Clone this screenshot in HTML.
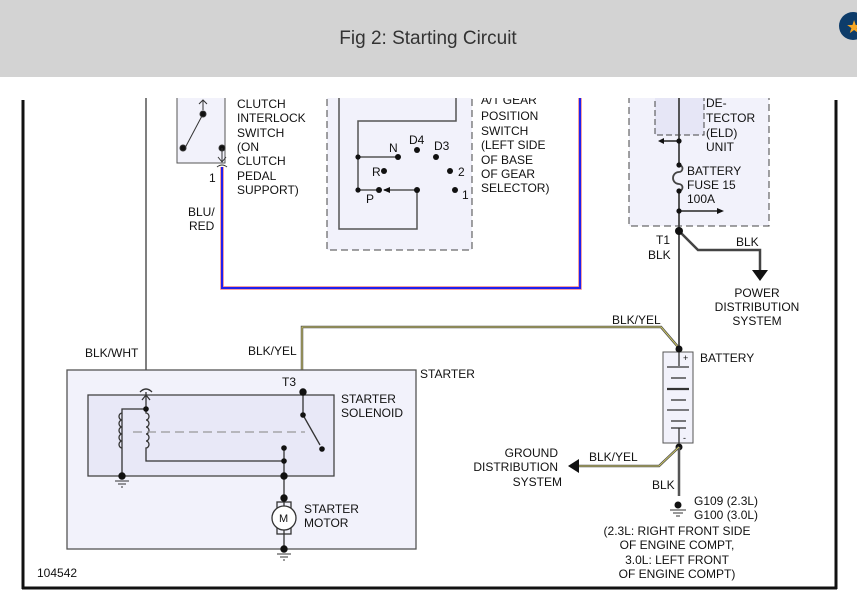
<!DOCTYPE html>
<html><head><meta charset="utf-8"><style>
body{margin:0;width:857px;height:600px;overflow:hidden;background:#fff;font-family:"Liberation Sans",sans-serif}
.hdr{position:absolute;left:0;top:0;width:857px;height:77px;background:#d3d3d3;z-index:2}
.hdr div{position:absolute;left:0;width:857px;top:26px;text-align:center;font-size:19px;color:#333}
svg{position:absolute;left:0;top:0}
text{font-family:"Liberation Sans",sans-serif;font-size:12px;fill:#111}
</style></head><body>
<div class="hdr"><div>Fig 2: Starting Circuit</div></div>
<svg width="857" height="600" viewBox="0 0 857 600" style="z-index:3">
<g fill="none" stroke="#111">
<line x1="23" y1="100" x2="23" y2="589" stroke-width="3"/>
<line x1="22" y1="588" x2="837" y2="588" stroke-width="3"/>
<line x1="836" y1="100" x2="836" y2="589" stroke-width="3"/>
</g>
<!-- clutch switch -->
<rect x="177" y="90" width="48" height="73" fill="#f2f2fb" stroke="#555"/>
<g stroke="#333" fill="#111">
<line x1="203" y1="114" x2="185" y2="148"/>
<circle cx="203" cy="114" r="3"/><circle cx="183" cy="148" r="3"/><circle cx="222" cy="148" r="3"/>
<line x1="222" y1="148" x2="222" y2="162"/>
<path d="M218 157 L222 162 L226 157" fill="none"/>
<path d="M203 110 L203 100 M199 104 L203 100 L207 104" fill="none"/>
<path d="M217 167 Q222 163 227 167" fill="none"/>
</g>
<g>
<text x="237" y="108">CLUTCH</text><text x="237" y="122">INTERLOCK</text><text x="237" y="137">SWITCH</text>
<text x="237" y="151">(ON</text><text x="237" y="165">CLUTCH</text><text x="237" y="180">PEDAL</text><text x="237" y="194">SUPPORT)</text>
<text x="209" y="182">1</text>
<text x="188" y="216">BLU/</text><text x="189" y="230">RED</text>
</g>
<path d="M222 167 V288 H580 V90" fill="none" stroke="#f08080" stroke-width="3.5"/>
<path d="M222 167 V288 H580 V90" fill="none" stroke="#2020ee" stroke-width="2"/>
<!-- gear switch -->
<rect x="327" y="90" width="145" height="160" fill="#f2f2fb" stroke="#444" stroke-dasharray="7,4"/>
<g stroke="#555" fill="none" stroke-width="1.5">
<path d="M456 90 V121 H358 V190 H379"/>
<path d="M358 157 H398"/>
<path d="M417 190 V229 H339 V90"/>
<path d="M417 190 H384"/>
</g>
<path d="M383 190 L390 187 L390 193Z" fill="#111"/>
<g fill="#111">
<circle cx="358" cy="157" r="2.6"/><circle cx="358" cy="190" r="2.6"/>
<circle cx="398" cy="157" r="3"/><circle cx="417" cy="150" r="3"/><circle cx="436" cy="157" r="3"/>
<circle cx="384" cy="171" r="3"/><circle cx="450" cy="171" r="3"/><circle cx="379" cy="190" r="3"/>
<circle cx="417" cy="190" r="3"/><circle cx="455" cy="190" r="3"/>
</g>
<text x="389" y="152">N</text><text x="409" y="144">D4</text><text x="434" y="150">D3</text>
<text x="372" y="176">R</text><text x="458" y="176">2</text><text x="366" y="203">P</text><text x="462" y="199">1</text>
<text x="481" y="104">A/T GEAR</text><text x="481" y="120">POSITION</text><text x="481" y="135">SWITCH</text>
<text x="481" y="149">(LEFT SIDE</text><text x="481" y="164">OF BASE</text><text x="481" y="178">OF GEAR</text><text x="481" y="192">SELECTOR)</text>
<line x1="146" y1="90" x2="146" y2="388" stroke="#555" stroke-width="1.5"/>
<text x="85" y="357">BLK/WHT</text>
<!-- ELD / fuse -->
<rect x="629" y="90" width="140" height="136" fill="#f2f2fb" stroke="#444" stroke-dasharray="7,4"/>
<rect x="655" y="90" width="49" height="45" fill="#e6e6f6" stroke="#444" stroke-dasharray="6,3"/>
<g stroke="#444" stroke-width="1.8" fill="none">
<line x1="679" y1="90" x2="679" y2="165"/>
<path d="M679 165 a3.5 3.5 0 0 1 0 7 a6 6 0 0 0 0 12 a3.5 3.5 0 0 1 0 7"/>
<line x1="679" y1="191" x2="679" y2="352"/>
<line x1="679" y1="141" x2="663" y2="141"/>
<line x1="679" y1="211" x2="718" y2="211"/>
<path d="M679 231 L698 250 H760 V270" stroke-width="2.5"/>
</g>
<path d="M658 141 L664 138 L664 144Z M724 211 L717 208 L717 214Z M752 270 H768 L760 281Z" fill="#111"/>
<g fill="#111"><circle cx="679" cy="141" r="2.6"/><circle cx="679" cy="165" r="2.6"/><circle cx="679" cy="191" r="2.6"/><circle cx="679" cy="211" r="2.6"/><circle cx="679" cy="231" r="4"/></g>
<text x="706" y="107">DE-</text><text x="706" y="122">TECTOR</text><text x="706" y="137">(ELD)</text><text x="706" y="151">UNIT</text>
<text x="687" y="175">BATTERY</text><text x="687" y="189">FUSE 15</text><text x="687" y="203">100A</text>
<text x="656" y="244">T1</text><text x="648" y="259">BLK</text><text x="736" y="246">BLK</text>
<text x="757" y="297" text-anchor="middle">POWER</text><text x="757" y="311" text-anchor="middle">DISTRIBUTION</text><text x="757" y="325" text-anchor="middle">SYSTEM</text>
<!-- BLK/YEL -->
<path d="M302 392 V327 H661 L679 348" fill="none" stroke="#555" stroke-width="2.5"/>
<path d="M302 392 V327 H661 L679 348" fill="none" stroke="#e8e060" stroke-width="0.8"/>
<text x="612" y="324">BLK/YEL</text><text x="248" y="355">BLK/YEL</text>
<!-- battery -->
<rect x="663" y="352" width="30" height="91" fill="#f2f2fb" stroke="#555"/>
<g stroke="#333" stroke-width="1.3">
<line x1="679" y1="352" x2="679" y2="366"/>
<line x1="667" y1="367" x2="689" y2="367"/><line x1="671" y1="378" x2="686" y2="378"/>
<line x1="667" y1="389" x2="689" y2="389" stroke-width="2.3"/><line x1="671" y1="400" x2="686" y2="400"/>
<line x1="667" y1="410" x2="689" y2="410"/><line x1="671" y1="421" x2="686" y2="421"/>
<line x1="671" y1="428" x2="686" y2="428"/><line x1="679" y1="428" x2="679" y2="443"/>
</g>
<text x="683" y="361" style="font-size:9px">+</text><text x="683" y="441" style="font-size:9px">-</text>
<text x="700" y="362">BATTERY</text>
<circle cx="679" cy="349" r="3.5" fill="#111"/><circle cx="679" cy="447" r="3.5" fill="#111"/>
<line x1="679" y1="447" x2="679" y2="496" stroke="#555" stroke-width="2.5"/>
<path d="M679 447 L659 466 H578" fill="none" stroke="#555" stroke-width="2.5"/>
<path d="M679 447 L659 466 H578" fill="none" stroke="#e8e060" stroke-width="0.8"/>
<path d="M568 466 L579 459 L579 473Z" fill="#111"/>
<circle cx="678" cy="505" r="3.5" fill="#111"/>
<g stroke="#333"><line x1="670" y1="510" x2="686" y2="510"/><line x1="673" y1="513" x2="683" y2="513"/><line x1="676" y1="516" x2="680" y2="516"/></g>
<text x="589" y="461">BLK/YEL</text>
<text x="558" y="457" text-anchor="end">GROUND</text><text x="558" y="471" text-anchor="end">DISTRIBUTION</text><text x="562" y="486" text-anchor="end">SYSTEM</text>
<text x="652" y="489">BLK</text><text x="694" y="505">G109 (2.3L)</text><text x="694" y="519">G100 (3.0L)</text>
<text x="677" y="535" text-anchor="middle">(2.3L: RIGHT FRONT SIDE</text><text x="677" y="549" text-anchor="middle">OF ENGINE COMPT,</text>
<text x="677" y="564" text-anchor="middle">3.0L: LEFT FRONT</text><text x="677" y="578" text-anchor="middle">OF ENGINE COMPT)</text>
<!-- starter -->
<rect x="67" y="370" width="349" height="179" fill="#f2f2fb" stroke="#555" stroke-width="1.3"/>
<rect x="88" y="395" width="246" height="81" fill="#e8e8f7" stroke="#444" stroke-width="1.3"/>
<text x="420" y="378">STARTER</text><text x="282" y="386">T3</text>
<text x="341" y="403">STARTER</text><text x="341" y="417">SOLENOID</text>
<text x="304" y="513">STARTER</text><text x="304" y="527">MOTOR</text>
<text x="37" y="577">104542</text>
<g fill="none" stroke="#333" stroke-width="1.3">
<path d="M140 392 Q146 386 152 392"/>
<line x1="146" y1="392" x2="146" y2="410"/><path d="M142 400 L146 395 L150 400"/>
<path d="M122 476 V409 H146"/>
<path d="M146 409 V413 a3 3.5 0 0 1 0 7 a3 3.5 0 0 1 0 7 a3 3.5 0 0 1 0 7 a3 3.5 0 0 1 0 7 a3 3.5 0 0 1 0 7 V461 H284"/>
<path d="M122 413 a3 3.5 0 0 0 0 7 a3 3.5 0 0 0 0 7 a3 3.5 0 0 0 0 7 a3 3.5 0 0 0 0 7 a3 3.5 0 0 0 0 7"/>
<line x1="133" y1="432" x2="305" y2="432" stroke="#999" stroke-dasharray="9,5"/>
<line x1="303" y1="392" x2="303" y2="415"/><line x1="303" y1="415" x2="320" y2="445"/>
<line x1="284" y1="448" x2="284" y2="506"/><line x1="284" y1="530" x2="284" y2="550"/>
<rect x="277" y="502" width="14" height="6"/><rect x="277" y="528" width="14" height="6"/>
</g>
<circle cx="284" cy="518" r="12" fill="#fff" stroke="#333" stroke-width="1.3"/>
<text x="279" y="522" style="font-size:11px">M</text>
<g fill="#111">
<circle cx="303" cy="392" r="3.7"/><circle cx="303" cy="415" r="2.8"/><circle cx="322" cy="449" r="2.8"/>
<circle cx="146" cy="409" r="2.8"/><circle cx="284" cy="448" r="2.8"/><circle cx="284" cy="461" r="2.8"/>
<circle cx="284" cy="476" r="3.7"/><circle cx="284" cy="498" r="3.7"/><circle cx="284" cy="549" r="3.7"/>
<circle cx="122" cy="476" r="3.7"/>
</g>
<g stroke="#333">
<line x1="115" y1="481" x2="129" y2="481"/><line x1="118" y1="484" x2="126" y2="484"/><line x1="121" y1="487" x2="123" y2="487"/>
<line x1="277" y1="554" x2="291" y2="554"/><line x1="280" y1="557" x2="288" y2="557"/><line x1="283" y1="560" x2="285" y2="560"/>
</g>
<!-- top mask -->
<rect x="0" y="77" width="857" height="21" fill="#fff"/>
<rect x="0" y="0" width="857" height="77" fill="#d3d3d3"/>
<text x="428" y="44" text-anchor="middle" style="font-size:19px;fill:#333">Fig 2: Starting Circuit</text>
<circle cx="853" cy="26" r="14" fill="#0d3c6a"/>
<text x="846" y="33" style="font-size:18px;fill:#f5a623">★</text>
</svg>
</body></html>
